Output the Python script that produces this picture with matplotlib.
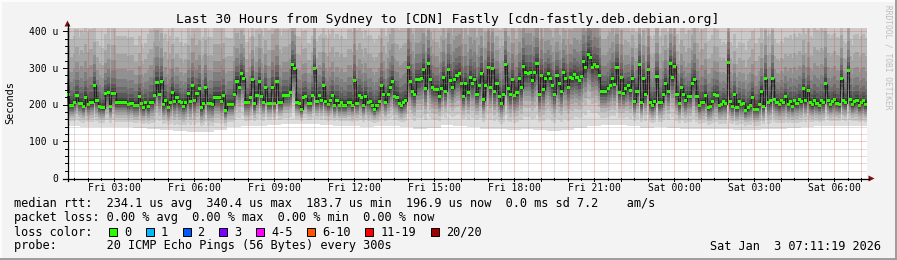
import numpy as np
import matplotlib
matplotlib.use("Agg")
import matplotlib.pyplot as plt
from matplotlib.patches import Rectangle, Polygon
from matplotlib.lines import Line2D

W, H = 897, 260
MONO = "DejaVu Sans Mono"

# median rtt per 5 minute step (us), 360 steps = 30 hours
median_us = [
    228, 198, 198, 207, 225, 204, 204, 196, 220, 200, 207, 207,
    253, 211, 196, 191, 191, 230, 234, 196, 231, 231, 207, 207,
    207, 207, 207, 200, 204, 204, 199, 199, 223, 202, 192, 205,
    194, 207, 207, 226, 260, 228, 264, 200, 211, 192, 207, 234,
    208, 220, 208, 207, 196, 205, 231, 209, 251, 211, 230, 244,
    192, 204, 246, 202, 204, 200, 220, 220, 220, 209, 225, 185,
    200, 200, 200, 228, 264, 248, 284, 272, 207, 207, 220, 268,
    202, 225, 262, 223, 207, 246, 204, 204, 248, 204, 262, 207,
    207, 225, 225, 225, 234, 309, 298, 207, 203, 188, 220, 222,
    204, 203, 225, 298, 209, 225, 211, 251, 209, 200, 211, 225,
    198, 211, 198, 207, 198, 198, 207, 207, 198, 265, 204, 225,
    220, 198, 223, 207, 208, 198, 188, 198, 209, 251, 228, 207,
    227, 248, 264, 223, 220, 204, 198, 205, 211, 302, 262, 236,
    228, 268, 268, 272, 296, 244, 313, 268, 246, 240, 240, 222,
    244, 275, 237, 295, 265, 246, 268, 279, 284, 257, 223, 257,
    233, 275, 257, 268, 227, 253, 286, 214, 253, 301, 246, 298,
    237, 257, 223, 203, 228, 309, 244, 227, 268, 225, 234, 271,
    246, 305, 287, 286, 287, 265, 287, 313, 228, 280, 240, 272,
    286, 271, 253, 228, 280, 259, 237, 287, 271, 248, 275, 272,
    281, 275, 265, 277, 319, 301, 337, 328, 301, 310, 305, 279,
    236, 236, 236, 244, 253, 271, 255, 302, 234, 273, 231, 244,
    253, 238, 272, 208, 236, 309, 207, 271, 228, 295, 207, 198,
    208, 278, 205, 207, 228, 259, 236, 311, 275, 305, 228, 202,
    246, 228, 211, 223, 223, 259, 268, 223, 198, 207, 207, 225,
    192, 196, 208, 228, 225, 198, 200, 208, 202, 315, 208, 196,
    228, 192, 208, 200, 204, 185, 192, 198, 220, 188, 188, 200,
    237, 196, 271, 205, 210, 271, 215, 205, 200, 210, 205, 221,
    200, 208, 196, 210, 204, 215, 208, 244, 210, 239, 205, 200,
    212, 204, 198, 210, 205, 257, 210, 200, 208, 215, 204, 200,
    271, 210, 205, 292, 215, 200, 208, 212, 198, 205, 210, 200,
]

# fastest ping per 30 minutes (us), lower edge of the smoke
smoke_low_us = [
    144, 140, 140, 140, 140, 137, 135, 133, 130, 128,
    128, 132, 140, 142, 144, 146, 148, 149, 148, 146,
    144, 142, 141, 142, 143, 140, 136, 138, 146, 144,
    140, 136, 134, 132, 134, 132, 130, 132, 138, 144,
    146, 146, 142, 138, 140, 138, 136, 134, 134, 134,
    133, 132, 134, 136, 138, 140, 142, 144, 144, 142,
]

# how far the slow pings reach above the median, per 30 minutes
upper_spread = [
    1.0, 1.1, 0.9, 1.0, 1.0, 0.9, 1.1, 1.0, 0.9, 1.0,
    1.0, 1.1, 1.0, 0.9, 1.0, 1.1, 1.0, 1.0, 0.9, 1.0,
    1.0, 1.1, 1.0, 1.0, 1.1, 1.2, 1.1, 1.0, 1.1, 1.2,
    1.2, 1.1, 1.0, 1.1, 1.2, 1.1, 1.0, 1.0, 1.1, 1.2,
    1.1, 1.0, 0.9, 1.0, 1.0, 0.9, 1.0, 1.1, 1.0, 0.9,
    0.9, 1.0, 1.0, 0.9, 1.0, 1.0, 1.1, 1.0, 0.9, 1.0,
]

# typical position of the 20 sorted pings of one step
low_rank_frac = [0.0, 0.22, 0.38, 0.5, 0.6, 0.68, 0.76, 0.84, 0.92]
high_rank_off_us = [4, 12, 24, 40, 62, 90, 130, 180, 260, 450]

x_labels = ["Fri 03:00", "Fri 06:00", "Fri 09:00", "Fri 12:00", "Fri 15:00",
            "Fri 18:00", "Fri 21:00", "Sat 00:00", "Sat 03:00", "Sat 06:00"]
first_hour = 0.775          # hours from graph start to Fri 02:00
y_ticks = [0, 100, 200, 300, 400]
y_tick_labels = ["0", "100 u", "200 u", "300 u", "400 u"]

loss_labels = ["0", "1", "2", "3", "4-5", "6-10", "11-19", "20/20"]
loss_colors = ["#26ff00", "#00b8ff", "#0059ff", "#7e00ff",
               "#ff00ff", "#ff5500", "#ff0000", "#a10000"]

legend_lines = [
    "median rtt:  234.1 us avg  340.4 us max  183.7 us min  196.9 us now  0.0 ms sd 7.2    am/s",
    "packet loss: 0.00 % avg  0.00 % max  0.00 % min  0.00 % now",
    "loss color:",
    "probe:       20 ICMP Echo Pings (56 Bytes) every 300s",
]
stamp = "Sat Jan  3 07:11:19 2026"
title = "Last 30 Hours from Sydney to [CDN] Fastly [cdn-fastly.deb.debian.org]"


def fx(x):
    return x / W


def fy(y):
    return 1 - y / H


fig = plt.figure(figsize=(W / 100, H / 100), dpi=100, facecolor="#f3f3f3")

# frame
fig.add_artist(Line2D([0, 1], [fy(0.5), fy(0.5)], color="#fdfdfd", lw=1.4))
fig.add_artist(Line2D([fx(0.5), fx(0.5)], [0, 1], color="#fdfdfd", lw=1.4))
fig.add_artist(Line2D([0, 1], [fy(259), fy(259)], color="#9c9c9c", lw=1.4))
fig.add_artist(Line2D([fx(896), fx(896)], [0, 1], color="#9c9c9c", lw=1.4))

ax = fig.add_axes([fx(67), fy(178), 800 / W, 150 / H])
ax.set_xlim(0, 30)
ax.set_ylim(0, 409)
ax.set_facecolor("white")
for s in ax.spines.values():
    s.set_visible(False)
ax.set_xticks([])
ax.set_yticks([])

n = len(median_us)
edges = np.arange(n + 1) * 30.0 / n
med = np.array(median_us, dtype=float)
low = np.repeat(smoke_low_us, n // len(smoke_low_us)).astype(float)
spread = np.repeat(upper_spread, n // len(upper_spread))

pings = []
for f in low_rank_frac:
    pings.append(low + f * (med - low))
pings.append(med - 1)
for off in high_rank_off_us:
    pings.append(med + off * spread)

half = 10
for k in range(half):
    g = (int(190 / half * (half - (k + 1))) + 50) / 255
    ax.stairs(np.minimum(pings[19 - k], 409), edges, baseline=pings[k],
              fill=True, color=(g, g, g), antialiased=False, zorder=2)

# median line and loss coloured marks
ax.stairs(med, edges, baseline=None, color="#202020", lw=0.8, zorder=3)
sw = 409 / 150
ax.stairs(med + sw, edges, baseline=med - sw, fill=True,
          color=loss_colors[0], antialiased=False, zorder=4)

# grid on top
dot = (0, (1, 1))
hours = first_hour + np.arange(0, 30)
halfs = first_hour - 0.5 + np.arange(0, 31)
for t in halfs:
    if 0 < t < 30:
        ax.axvline(t, color=(0.55, 0.55, 0.55, 0.55), lw=0.72, ls=dot, zorder=5)
for v in range(20, 409, 20):
    if v % 100:
        ax.axhline(v, color=(0.55, 0.55, 0.55, 0.55), lw=0.72, ls=dot, zorder=5)
for t in hours:
    if t < 30:
        ax.axvline(t, color=(0.95, 0.2, 0.2, 0.5), lw=0.72, ls=dot, zorder=6)
for v in y_ticks[1:]:
    ax.axhline(v, color=(0.95, 0.2, 0.2, 0.5), lw=0.72, ls=dot, zorder=6)

# axes, ticks, arrows
x0, x1, y0, y1 = 67, 867, 178, 28


def tx(t):
    return x0 + t / 30 * (x1 - x0)


def vy(v):
    return y0 - v / 409 * (y0 - y1)


fig.add_artist(Line2D([fx(63), fx(869)], [fy(178.5), fy(178.5)], color="black", lw=0.9))
fig.add_artist(Line2D([fx(67.5), fx(67.5)], [fy(181), fy(24)], color="black", lw=0.9))
for t in hours:
    if t < 30:
        fig.add_artist(Line2D([fx(tx(t)), fx(tx(t))], [fy(178), fy(181)], color="black", lw=0.7))
for t in halfs:
    if 0 < t < 30:
        fig.add_artist(Line2D([fx(tx(t)), fx(tx(t))], [fy(178), fy(180)], color="black", lw=0.7))
for v in range(20, 409, 20):
    ln = 4 if v % 100 == 0 else 2
    fig.add_artist(Line2D([fx(67 - ln), fx(67)], [fy(vy(v)), fy(vy(v))], color="black", lw=0.7))

arrow_c = "#7f0f0f"
fig.add_artist(Polygon([[fx(64.5), fy(26.5)], [fx(70.5), fy(26.5)], [fx(67.5), fy(20.5)]],
                       closed=True, color=arrow_c, lw=0))
fig.add_artist(Polygon([[fx(868.5), fy(175.5)], [fx(868.5), fy(181.5)], [fx(874.5), fy(178.5)]],
                       closed=True, color=arrow_c, lw=0))

# tick labels
for i, lab in enumerate(x_labels):
    t = first_hour + 1 + 3 * i
    fig.text(fx(tx(t)), fy(190.7), lab, ha="center", va="baseline",
             family=MONO, fontsize=7.05)
for v, lab in zip(y_ticks, y_tick_labels):
    fig.text(fx(58.5), fy(vy(v) + 3.6), lab, ha="right", va="baseline",
             family=MONO, fontsize=7.05)

fig.text(fx(10), fy(103), "Seconds", rotation=90, ha="center", va="center",
         family=MONO, fontsize=7.4)
fig.text(fx(447.5), fy(23.3), title, ha="center", va="baseline",
         family=MONO, fontsize=9.4)
fig.text(fx(888), fy(5), "RRDTOOL / TOBI OETIKER", rotation=270, ha="center", va="top",
         family=MONO, fontsize=5.7, color="#bdbdbd")

# legend
cw = 7.14
lx = 14.4
for i, line in enumerate(legend_lines):
    fig.text(fx(lx), fy(207.5 + 14 * i), line, ha="left", va="baseline",
             family=MONO, fontsize=8.54)

col = 13.25
for lab, c in zip(loss_labels, loss_colors):
    bx = lx + col * cw
    fig.add_artist(Rectangle((fx(bx), fy(235.7)), 8 / W, 8 / H, facecolor=c,
                             edgecolor="black", lw=0.7))
    col += 2.1
    fig.text(fx(lx + col * cw), fy(235.5), lab, ha="left", va="baseline",
             family=MONO, fontsize=8.54)
    col += len(lab) + 2.05

fig.text(fx(880.5), fy(249.5), stamp, ha="right", va="baseline",
         family=MONO, fontsize=8.54)

fig.savefig("out.png", dpi=100, facecolor=fig.get_facecolor())
